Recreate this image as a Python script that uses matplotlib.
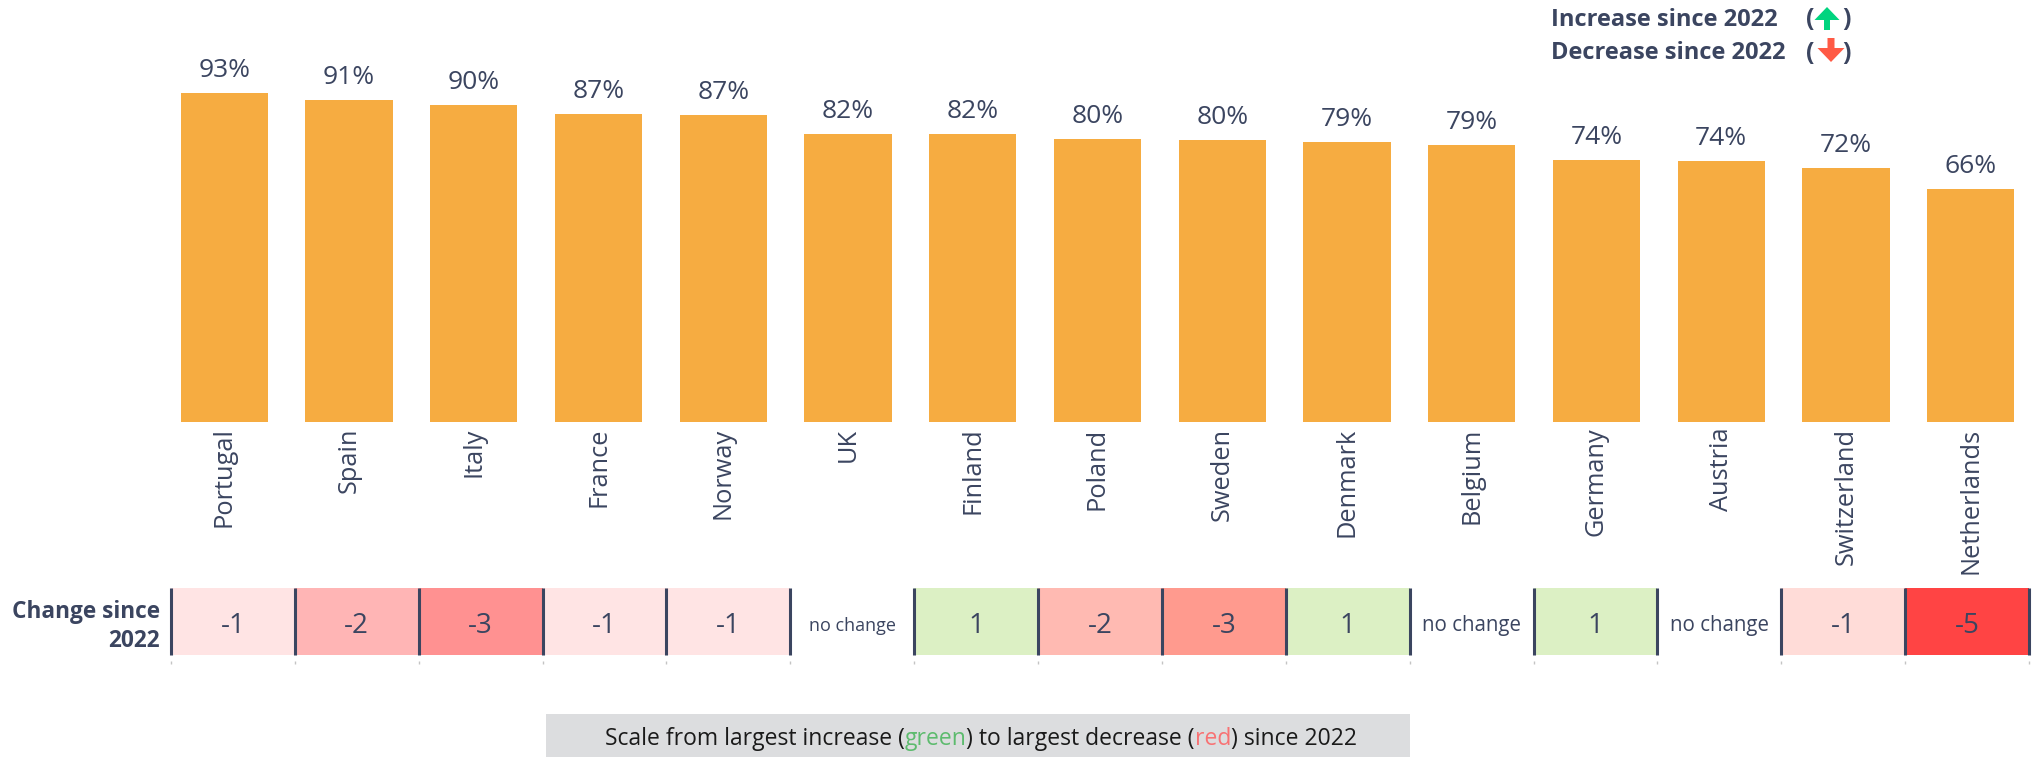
import matplotlib
matplotlib.use('Agg')
import matplotlib.pyplot as plt
from matplotlib.patches import FancyArrow, Rectangle

countries = ['Portugal', 'Spain', 'Italy', 'France', 'Norway', 'UK', 'Finland', 'Poland',
             'Sweden', 'Denmark', 'Belgium', 'Germany', 'Austria', 'Switzerland', 'Netherlands']
values = [93.0, 91.1, 89.7, 87.1, 87.0, 81.6, 81.4, 80.1, 79.8, 79.2, 78.5, 74.1, 73.9, 71.8, 66.0]
labels = ['93%', '91%', '90%', '87%', '87%', '82%', '82%', '80%', '80%', '79%', '79%', '74%', '74%', '72%', '66%']
changes = ['-1', '-2', '-3', '-1', '-1', 'no change', '1', '-2', '-3', '1', 'no change', '1', 'no change', '-1', '-5']
cell_colors = ['#ffe4e4', '#ffb5b5', '#ff9191', '#ffe4e4', '#ffe4e4', '#ffffff', '#dcf0c4', '#ffbab2',
               '#ff9a8e', '#dcf0c4', '#ffffff', '#dcf0c4', '#ffffff', '#ffdcd8', '#ff4444']
cell_font = [20, 20, 20, 20, 20, 13, 20, 20, 20, 20, 14.8, 20, 14.8, 20, 20]

W, H = 2034, 757
dark = '#3b4560'
plt.rcParams['font.family'] = ['Open Sans', 'DejaVu Sans']

fig = plt.figure(figsize=(W / 100, H / 100), dpi=100)


def box(left, top, right, bottom):
    return [left / W, 1 - bottom / H, (right - left) / W, (bottom - top) / H]


# bars
ax = fig.add_axes(box(162, 93.3, 2033, 422))
xs = list(range(len(countries)))
ax.bar(xs, values, width=0.7, color='#f6ac41')
ax.set_xlim(-0.5, 14.5)
ax.set_ylim(0, 93)
for x, v, lab in zip(xs, values, labels):
    ax.annotate(lab, (x, v), xytext=(0, 10), textcoords='offset pixels', ha='center', va='bottom',
                fontsize=19, color=dark, annotation_clip=False)
ax.set_xticks(xs)
ax.set_xticklabels(countries, rotation=90, fontsize=18.3, color=dark)
ax.tick_params(axis='x', length=0, pad=4)
ax.set_yticks([])
for s in ax.spines.values():
    s.set_visible(False)

# change row
ax2 = fig.add_axes(box(171, 588, 2029, 655))
ax2.bar(xs, [1] * len(xs), width=1, color=cell_colors)
ax2.set_xlim(-0.5, 14.5)
ax2.set_ylim(0, 1)
for x, c, fs in zip(xs, changes, cell_font):
    ax2.text(x, 0.44, c, ha='center', va='center', color=dark, fontsize=fs)
edges = [x - 0.5 for x in xs] + [14.5]
ax2.vlines(edges, 0, 1, color=dark, lw=2.2, clip_on=False)
ax2.vlines(edges, -0.13, -0.09, color='#c4c4c4', lw=1, clip_on=False)
ax2.set_xticks([])
ax2.set_yticks([])
for s in ax2.spines.values():
    s.set_visible(False)

# overlay in pixel coordinates for legend and footer
ov = fig.add_axes([0, 0, 1, 1], zorder=5)
ov.set_xlim(0, W)
ov.set_ylim(H, 0)
ov.axis('off')

ov.text(160, 612, 'Change since', ha='right', va='center', fontsize=16.3, fontweight='bold', color=dark)
ov.text(160, 641, '2022', ha='right', va='center', fontsize=16.3, fontweight='bold', color=dark)

ov.text(1551, 20, 'Increase since 2022', va='center', fontsize=17, fontweight='bold', color=dark)
ov.text(1551, 53, 'Decrease since 2022', va='center', fontsize=17, fontweight='bold', color=dark)
for y in (20, 53):
    ov.text(1810, y, '(', ha='center', va='center', fontsize=18, fontweight='bold', color=dark)
    ov.text(1846, y, ')', ha='center', va='center', fontsize=18, fontweight='bold', color=dark)
ov.add_patch(FancyArrow(1827, 30, 0, -23, width=6, head_width=25, head_length=13,
                        length_includes_head=True, color='#00d47f', lw=0))
ov.add_patch(FancyArrow(1831, 38, 0, 24, width=7, head_width=27, head_length=14,
                        length_includes_head=True, color='#ff5a45', lw=0))

ov.add_patch(Rectangle((546, 714), 864, 43, color='#dcdddf', lw=0))

# footer text in coloured pieces, laid out one after the other
pieces = [('Scale from largest increase (', '#1a1a1a'), ('green', '#5dbb6e'), (') to largest decrease (', '#1a1a1a'),
          ('red', '#f87274'), (') since 2022', '#1a1a1a')]
r = fig.canvas.get_renderer()
fsize = 16.5


def text_width(s):
    # a bar on the end keeps trailing spaces in the measurement
    t1 = ov.text(0, 0, s + '|', fontsize=fsize)
    t2 = ov.text(0, 0, '|', fontsize=fsize)
    w = t1.get_window_extent(r).width - t2.get_window_extent(r).width
    t1.remove()
    t2.remove()
    return w


x0 = 981 - text_width(''.join(s for s, c in pieces)) / 2
used = ''
for s, c in pieces:
    ov.text(x0 + text_width(used), 739, s, va='center', fontsize=fsize, color=c)
    used += s

fig.savefig('out.png', dpi=100)
